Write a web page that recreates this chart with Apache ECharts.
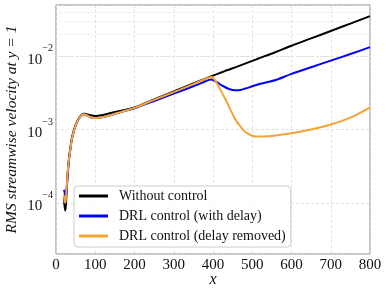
<!DOCTYPE html>
<html><head><meta charset="utf-8">
<script src="https://cdn.jsdelivr.net/npm/echarts@6/dist/echarts.min.js"></script>
<style>html,body{margin:0;padding:0;background:#fff}#c{width:386px;height:289px}</style>
</head><body><div id="c"></div>
<script>
var xs = [20,22,24,26,28,30,33,36,40,45,50,55,60,65,70,75,80,90,100,110,120,140,160,180,200,250,300,350,380,390,395,400,410,420,430,440,450,460,470,480,490,500,510,520,540,560,600,650,700,750,800];
var withoutControl = [1.2e-4,8.9e-5,7.8e-5,1.12e-4,1.78e-4,2.63e-4,3.98e-4,5.25e-4,7.4e-4,9.5e-4,1.15e-3,1.32e-3,1.48e-3,1.58e-3,1.64e-3,1.64e-3,1.60e-3,1.55e-3,1.53e-3,1.55e-3,1.58e-3,1.68e-3,1.78e-3,1.88e-3,2.0e-3,2.57e-3,3.31e-3,4.27e-3,4.93e-3,5.18e-3,5.3e-3,5.43e-3,5.7e-3,5.98e-3,6.27e-3,6.55e-3,6.84e-3,7.16e-3,7.5e-3,7.86e-3,8.25e-3,8.65e-3,9.06e-3,9.5e-3,1.04e-2,1.14e-2,1.39e-2,1.75e-2,2.21e-2,2.79e-2,3.52e-2];
var drlDelay = [1.5e-4,1.4e-4,1.0e-4,1.26e-4,1.74e-4,2.5e-4,3.8e-4,5.1e-4,7.2e-4,9.3e-4,1.12e-3,1.30e-3,1.45e-3,1.57e-3,1.62e-3,1.60e-3,1.55e-3,1.46e-3,1.43e-3,1.45e-3,1.48e-3,1.58e-3,1.70e-3,1.82e-3,1.95e-3,2.45e-3,3.09e-3,3.89e-3,4.52e-3,4.76e-3,4.81e-3,4.73e-3,4.42e-3,4.07e-3,3.80e-3,3.59e-3,3.47e-3,3.43e-3,3.47e-3,3.59e-3,3.73e-3,3.89e-3,4.05e-3,4.2e-3,4.45e-3,4.73e-3,5.75e-3,7.08e-3,8.71e-3,1.07e-2,1.33e-2];
var drlRemoved = [1.26e-4,1.05e-4,1.0e-4,1.32e-4,1.9e-4,2.7e-4,3.9e-4,5.1e-4,7.2e-4,9.3e-4,1.12e-3,1.30e-3,1.45e-3,1.57e-3,1.62e-3,1.60e-3,1.55e-3,1.46e-3,1.43e-3,1.45e-3,1.48e-3,1.58e-3,1.70e-3,1.83e-3,1.97e-3,2.54e-3,3.24e-3,4.17e-3,4.9e-3,5.13e-3,5.22e-3,5.13e-3,4.27e-3,3.39e-3,2.69e-3,2.09e-3,1.62e-3,1.29e-3,1.10e-3,9.5e-4,8.7e-4,8.2e-4,8.0e-4,8.0e-4,8.1e-4,8.3e-4,8.9e-4,1.0e-3,1.17e-3,1.45e-3,2.01e-3];
var xTicks = [0,100,200,300,400,500,600,700,800];
var yMajor = [1e-4,1e-3,1e-2];
var yMinor = [3e-5,4e-5,5e-5,6e-5,7e-5,8e-5,9e-5,2e-4,3e-4,4e-4,5e-4,6e-4,7e-4,8e-4,9e-4,2e-3,3e-3,4e-3,5e-3,6e-3,7e-3,8e-3,9e-3,2e-2,3e-2,4e-2];
var seriesNames = ['Without control','DRL control (with delay)','DRL control (delay removed)'];
var colors = ['#000000','#0000ff','#f5a331'];

function pairs(ys){ return xs.map(function(x,i){ return [x, ys[i]]; }); }
var FONT = 'Liberation Serif';
var chart = echarts.init(document.getElementById('c'), null, {renderer:'canvas'});
var minorLines = yMinor.map(function(v){ return {yAxis:v}; });
chart.setOption({
  animation:false,
  grid:{left:56,right:16,top:5,bottom:35,outerBoundsMode:'none',containLabel:false,show:true,borderColor:'#8a8a8a',borderWidth:1,backgroundColor:'transparent'},
  xAxis:{type:'value',min:0,max:800,interval:100,
    axisLine:{show:false},axisTick:{show:false},
    axisLabel:{fontFamily:FONT,fontSize:15,color:'#111',margin:4,
      formatter:function(v){ return xTicks.indexOf(v)>=0 ? String(v) : ''; }},
    splitLine:{show:true,lineStyle:{color:'#dcdcdc',type:[3,2],width:0.8}},
    name:'x',nameLocation:'middle',nameGap:18,nameMoveOverlap:false,
    nameTextStyle:{fontFamily:FONT,fontStyle:'italic',fontSize:16,color:'#111',verticalAlign:'top'}},
  yAxis:{type:'log',logBase:10,min:2e-5,max:5e-2,
    axisLine:{show:false},axisTick:{show:false},
    axisLabel:{showMinLabel:false,showMaxLabel:false,margin:3,
      formatter:function(v){
        for(var i=0;i<yMajor.length;i++){ if(Math.abs(v/yMajor[i]-1)<1e-6){ var e=Math.round(Math.log10(v)); return '{b|10}{s|\u2212'+(-e)+'}'; } }
        return '';
      },
      rich:{b:{fontFamily:FONT,fontSize:15,color:'#111',padding:[7,0,0,0]},
            s:{fontFamily:FONT,fontSize:10,color:'#111',padding:[0,0,15,0]}}},
    splitLine:{show:true,lineStyle:{color:'#dcdcdc',type:[3,2],width:0.8}},
    name:'RMS streamwise velocity at y = 1',nameLocation:'middle',nameGap:36,nameMoveOverlap:false,
    nameTextStyle:{fontFamily:FONT,fontStyle:'italic',fontSize:15.5,color:'#111'}},
  legend:{orient:'vertical',left:74,top:186,
    data:seriesNames,
    icon:'rect',itemWidth:29,itemHeight:3,itemGap:6,
    padding:[3,5,4,5],
    backgroundColor:'rgba(255,255,255,0.85)',borderColor:'#cccccc',borderWidth:1,borderRadius:4,
    textStyle:{fontFamily:FONT,fontSize:14,color:'#111',padding:[0,0,0,6]}},
  series:[
    {name:'minor-grid',type:'line',data:[],z:0,silent:true,
      markLine:{silent:true,symbol:'none',label:{show:false},animation:false,z:0,
        lineStyle:{color:'#e3e3e3',type:[2,2],width:0.7},data:minorLines}},
    {name:seriesNames[0],type:'line',data:pairs(withoutControl),showSymbol:false,smooth:0.3,
      lineStyle:{color:colors[0],width:2},itemStyle:{color:colors[0]},z:2},
    {name:seriesNames[1],type:'line',data:pairs(drlDelay),showSymbol:false,smooth:0.3,
      lineStyle:{color:colors[1],width:2},itemStyle:{color:colors[1]},z:3},
    {name:seriesNames[2],type:'line',data:pairs(drlRemoved),showSymbol:false,smooth:0.3,
      lineStyle:{color:colors[2],width:2},itemStyle:{color:colors[2]},z:4}
  ]
});
</script></body></html>
